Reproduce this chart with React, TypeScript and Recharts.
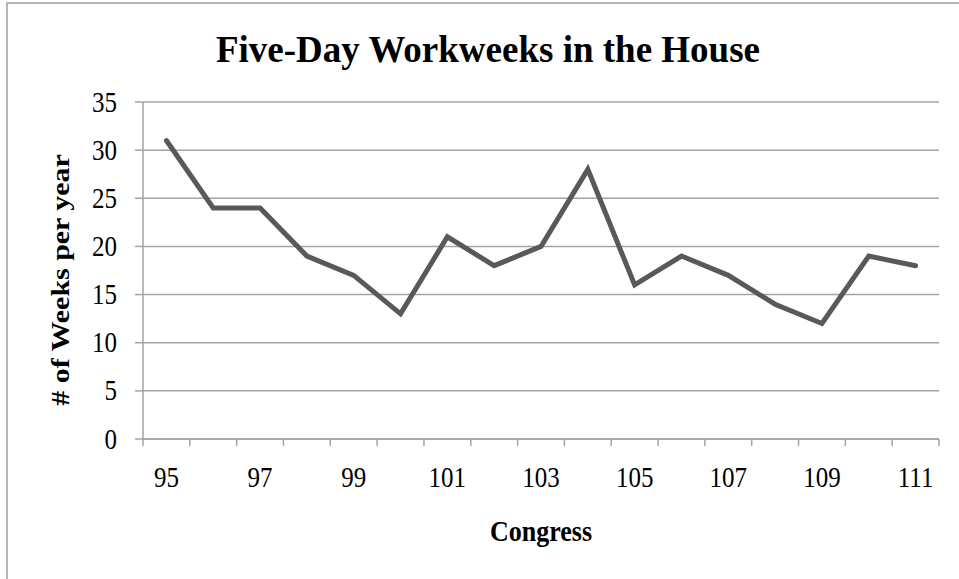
import React from 'react';
import { LineChart, Line, XAxis, YAxis, CartesianGrid } from 'recharts';

// Congress numbers and the five-day workweeks counted in each
const congresses = ['95', '96', '97', '98', '99', '100', '101', '102', '103', '104', '105', '106', '107', '108', '109', '110', '111'];
const weeks = [31, 24, 24, 19, 17, 13, 21, 18, 20, 28, 16, 19, 17, 14, 12, 19, 18];
const yTicks = [0, 5, 10, 15, 20, 25, 30, 35];

const data = congresses.map((c, i) => ({ congress: c, weeks: weeks[i] }));

const W = 959;
const H = 579;
const PLOT_LEFT = 143;
const PLOT_RIGHT = 939;
const PLOT_TOP = 102;
const PLOT_BOTTOM = 439;
const HALF_BAND = (PLOT_RIGHT - PLOT_LEFT) / congresses.length / 2;

const FONT = '"Liberation Serif", "Times New Roman", Times, serif';
const AXIS_GREY = '#a3a3a3';
const STRETCH = 1.15;

// squash/stretch a text vertically around its own y
const stretchAt = (y: number) => `translate(0 ${y}) scale(1 ${STRETCH}) translate(0 ${-y})`;

// x ticks sit between categories, labels on every other one
const XTick = (props: any) => {
  const { x, y, payload, index } = props;
  const axisY = y - 7;
  const labelY = axisY + 38;
  const last = index === congresses.length - 1;
  return (
    <g>
      <line x1={x - HALF_BAND} x2={x - HALF_BAND} y1={axisY} y2={axisY + 7} stroke={AXIS_GREY} strokeWidth={1.5} />
      {last && (
        <line x1={x + HALF_BAND} x2={x + HALF_BAND} y1={axisY} y2={axisY + 7} stroke={AXIS_GREY} strokeWidth={1.5} />
      )}
      {index % 2 === 0 && (
        <text
          x={x}
          y={labelY}
          textAnchor="middle"
          dominantBaseline="central"
          fontSize={25}
          fontFamily={FONT}
          fill="#000"
          transform={stretchAt(labelY)}
        >
          {payload.value}
        </text>
      )}
    </g>
  );
};

const YTick = (props: any) => {
  const { x, y, payload } = props;
  return (
    <text
      x={x}
      y={y}
      textAnchor="end"
      dominantBaseline="central"
      fontSize={25}
      fontFamily={FONT}
      fill="#000"
      transform={stretchAt(y)}
    >
      {payload.value}
    </text>
  );
};

export default function App() {
  return (
    <div
      style={{
        position: 'absolute',
        left: 0,
        top: 0,
        width: W,
        height: H,
        overflow: 'hidden',
        background: '#fff',
        fontFamily: FONT,
      }}
    >
      {/* chart frame, only its left and top edges are in view */}
      <div
        style={{
          position: 'absolute',
          left: 6,
          top: 2,
          width: 1200,
          height: 1200,
          border: '2px solid #b5b5b5',
        }}
      />
      <div
        style={{
          position: 'absolute',
          left: 488,
          top: 31,
          transform: 'translateX(-50%)',
          fontSize: 37,
          lineHeight: '37px',
          fontWeight: 'bold',
          whiteSpace: 'nowrap',
          color: '#000',
        }}
      >
        Five-Day Workweeks in the House
      </div>
      <div
        style={{
          position: 'absolute',
          left: 61,
          top: 280,
          transform: `translate(-50%, -50%) scaleY(${STRETCH}) rotate(-90deg)`,
          fontSize: 26,
          lineHeight: '26px',
          fontWeight: 'bold',
          whiteSpace: 'nowrap',
          color: '#000',
        }}
      >
        # of Weeks per year
      </div>
      <div
        style={{
          position: 'absolute',
          left: 541,
          top: 532,
          transform: `translate(-50%, -50%) scaleY(${STRETCH})`,
          fontSize: 26,
          lineHeight: '26px',
          fontWeight: 'bold',
          whiteSpace: 'nowrap',
          color: '#000',
        }}
      >
        Congress
      </div>
      <div style={{ position: 'absolute', left: 0, top: 0 }}>
        <LineChart
          width={W}
          height={H}
          data={data}
          margin={{ top: PLOT_TOP, right: W - PLOT_RIGHT, bottom: 0, left: 0 }}
        >
          <CartesianGrid vertical={false} stroke={AXIS_GREY} strokeWidth={1.5} />
          <XAxis
            dataKey="congress"
            scale="point"
            padding={{ left: HALF_BAND, right: HALF_BAND }}
            height={H - PLOT_BOTTOM}
            interval={0}
            tickSize={7}
            tickMargin={0}
            tickLine={false}
            axisLine={{ stroke: AXIS_GREY, strokeWidth: 1.5 }}
            tick={<XTick />}
          />
          <YAxis
            width={PLOT_LEFT}
            domain={[0, 35]}
            ticks={yTicks}
            interval={0}
            tickSize={8}
            tickMargin={18}
            tickLine={{ stroke: AXIS_GREY, strokeWidth: 1.5 }}
            axisLine={{ stroke: AXIS_GREY, strokeWidth: 1.5 }}
            tick={<YTick />}
          />
          <Line
            type="linear"
            dataKey="weeks"
            stroke="#595959"
            strokeWidth={5}
            strokeLinejoin="miter"
            strokeLinecap="round"
            dot={false}
            activeDot={false}
            isAnimationActive={false}
          />
        </LineChart>
      </div>
    </div>
  );
}
